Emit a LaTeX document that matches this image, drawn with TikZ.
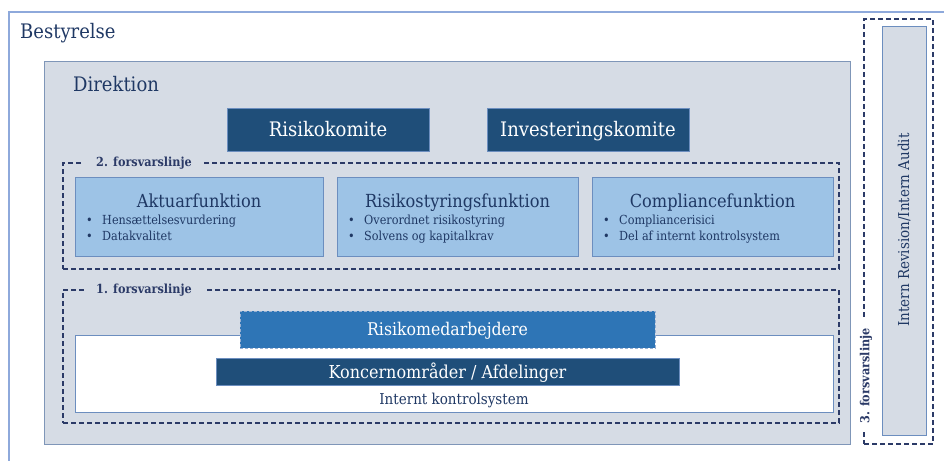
\documentclass[tikz,border=0pt]{standalone}
\usepackage{fontspec}
\setmainfont{DejaVu Serif Condensed}
\definecolor{navy}{HTML}{1F3864}
\definecolor{outerline}{HTML}{8EA9DB}
\definecolor{dirfill}{HTML}{D6DCE5}
\definecolor{dirline}{HTML}{7F96B8}
\definecolor{darkbox}{HTML}{1F4E79}
\definecolor{lightbox}{HTML}{9DC3E6}
\definecolor{lightline}{HTML}{6C8EBF}
\definecolor{midbox}{HTML}{2E75B6}
\definecolor{dashcol}{HTML}{2B3A67}
\tikzset{
  box/.style={rectangle, inner sep=0pt, anchor=center, text depth=0pt},
  darkstyle/.style={box, fill=darkbox, draw=lightline, line width=0.6pt, text=white},
  funcbox/.style={box, fill=lightbox, draw=lightline, line width=0.9pt},
  dashbox/.style={draw=dashcol, line width=1.1pt, dash pattern=on 5pt off 3pt},
  linelabel/.style={inner ysep=2pt, inner xsep=12pt, text=dashcol, font=\fontsize{12.5}{14}\selectfont\bfseries},
  bullets/.style={anchor=north west, align=left, inner sep=0pt, text=navy, font=\fontsize{12.5}{16}\selectfont},
  functitle/.style={inner sep=0pt, text=navy, font=\fontsize{18}{21}\selectfont, text height=13.1pt, text depth=0pt},
}
\newcommand{\bul}[1]{\makebox[16pt][l]{\textbullet}#1}
\begin{document}
\begin{tikzpicture}[x=1pt,y=-1pt]
\useasboundingbox (0,0) rectangle (944,461);
% outer Bestyrelse
\coordinate (otr) at (944,12);
\coordinate (otl) at (9,12);
\coordinate (obl) at (9,461);
\draw[outerline, line width=1.2pt] (otr) -- (otl) -- (obl);
\node[anchor=base west, inner sep=0pt, text=navy, font=\fontsize{20}{24}\selectfont] (best) at (20,38) {Bestyrelse};
% Direktion
\node[box, fill=dirfill, draw=dirline, line width=1pt, minimum width=806pt, minimum height=383pt] (dir) at (447,252.5) {};
\node[anchor=base west, inner sep=0pt, text=navy, font=\fontsize{20}{24}\selectfont] (dirt) at (73,91) {Direktion};
% committees
\node[darkstyle, minimum width=202pt, minimum height=43pt, text height=14.6pt, font=\fontsize{20}{24}\selectfont] (rk) at (328,129.5) {Risikokomite};
\node[darkstyle, minimum width=202pt, minimum height=43pt, text height=14.6pt, font=\fontsize{20}{24}\selectfont] (ik) at (588,129.5) {Investeringskomite};
% 2. forsvarslinje
\node[box, dashbox, minimum width=776pt, minimum height=106pt] (fl2) at (451,216) {};
\node[linelabel, fill=dirfill] (fl2l) at (144,163) {2. forsvarslinje};
\node[funcbox, minimum width=248pt, minimum height=79pt] (akt) at (199,216.5) {};
\node[funcbox, minimum width=241pt, minimum height=79pt] (ris) at (457.5,216.5) {};
\node[funcbox, minimum width=241pt, minimum height=79pt] (com) at (712.5,216.5) {};
\node[functitle] (aktt) at (199,200.5) {Aktuarfunktion};
\node[functitle] (rist) at (457.5,200.5) {Risikostyringsfunktion};
\node[functitle] (comt) at (712.5,200.5) {Compliancefunktion};
\node[bullets] (aktb) at (86,215) {\bul{Hensættelsesvurdering}\\\bul{Datakvalitet}};
\node[bullets] (risb) at (348,215) {\bul{Overordnet risikostyring}\\\bul{Solvens og kapitalkrav}};
\node[bullets] (comb) at (603,215) {\bul{Compliancerisici}\\\bul{Del af internt kontrolsystem}};
% 1. forsvarslinje
\node[box, dashbox, minimum width=776pt, minimum height=133pt] (fl1) at (451,356.5) {};
\node[linelabel, fill=dirfill] (fl1l) at (144,290) {1. forsvarslinje};
\node[box, fill=white, draw=lightline, line width=0.8pt, minimum width=758pt, minimum height=77pt] (iks) at (454,373.5) {};
\node[inner sep=0pt, text=navy, font=\fontsize{15}{18}\selectfont, text height=11pt, text depth=0pt] (ikst) at (454,399) {Internt kontrolsystem};
\node[box, fill=midbox, draw=lightline!70!white, line width=0.8pt, dash pattern=on 3pt off 2pt, text=white, minimum width=415pt, minimum height=37pt, text height=12.8pt, font=\fontsize{17.5}{20}\selectfont] (rm) at (447.5,329.5) {Risikomedarbejdere};
\node[darkstyle, minimum width=463pt, minimum height=27pt, text height=13pt, font=\fontsize{17.8}{22}\selectfont] (ka) at (447.5,371.5) {Koncernområder / Afdelinger};
% 3. forsvarslinje
\node[box, dashbox, minimum width=69pt, minimum height=425pt] (fl3) at (898.5,231.5) {};
\node[linelabel, fill=white, rotate=90, inner xsep=8pt] (fl3l) at (866,376) {3. forsvarslinje};
\node[box, fill=dirfill, draw=lightline, line width=0.8pt, minimum width=44pt, minimum height=409pt] (ia) at (904,230.5) {};
\node[inner sep=0pt, text=navy, rotate=90, font=\fontsize{15}{18}\selectfont] (iat) at (904,230) {Intern Revision/Intern Audit};
\end{tikzpicture}
\end{document}
